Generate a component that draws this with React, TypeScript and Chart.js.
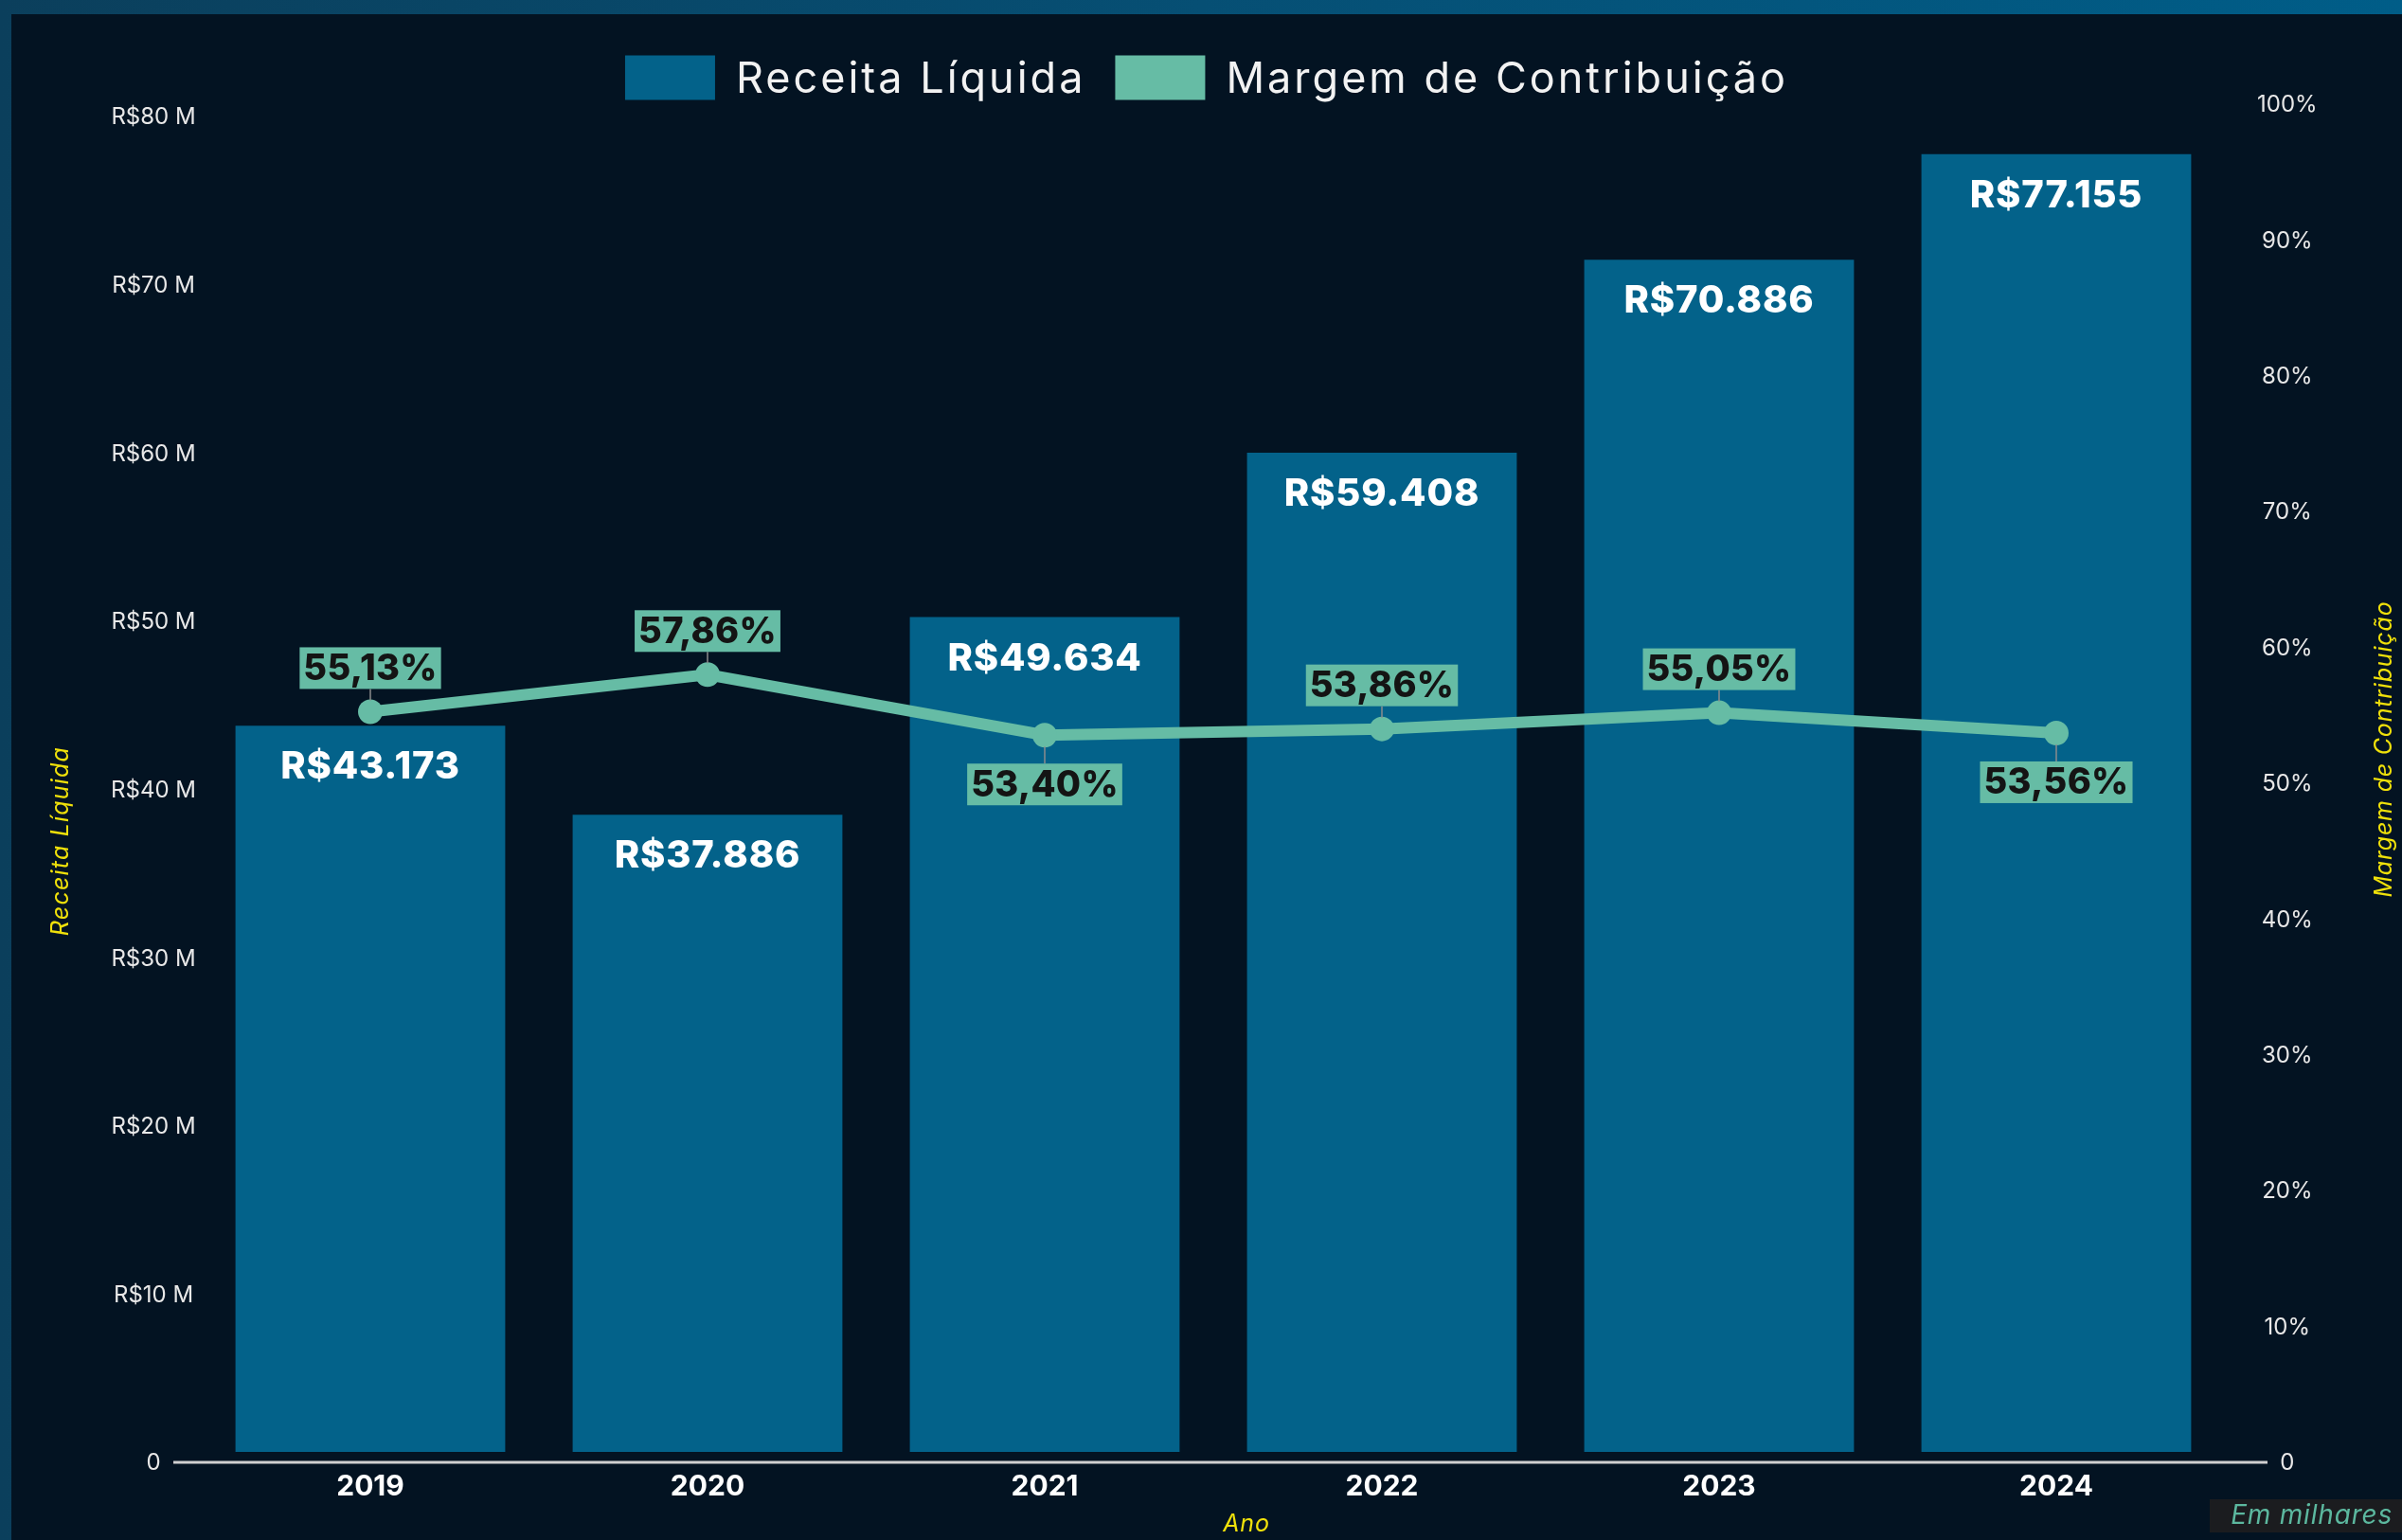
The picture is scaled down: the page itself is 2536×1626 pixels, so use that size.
import React, { useEffect, useRef } from "react";
import { Chart, registerables } from "chart.js";

Chart.register(...registerables);

// ---- data ----
const years = ["2019", "2020", "2021", "2022", "2023", "2024"];
// Receita Líquida em R$ mil
const receitaLiquida = [43173, 37886, 49634, 59408, 70886, 77155];
// Margem de Contribuição em %
const margemContribuicao = [55.13, 57.86, 53.4, 53.86, 55.05, 53.56];
const receitaTicks = [0, 10000, 20000, 30000, 40000, 50000, 60000, 70000, 80000];
const margemTicks = [0, 10, 20, 30, 40, 50, 60, 70, 80, 90, 100];
const margemLabelSide = ["above", "above", "below", "above", "above", "below"];

const legendLabels = ["Receita Líquida", "Margem de Contribuição"];
const axisTitles = { left: "Receita Líquida", right: "Margem de Contribuição", bottom: "Ano" };
const footnote = "Em milhares";

// ---- styles ----
const FONT = '"Inter", "Noto Sans", sans-serif';
const BAR_COLOR = "#03628a";
const LINE_COLOR = "#66bca5";
const BG = "#031322";
const YELLOW = "#f0e10a";
const CANVAS_W = 2524;
const CANVAS_H = 1611;

const fmtReceita = (v: number) =>
  "R$" + Math.floor(v / 1000) + "." + String(v % 1000).padStart(3, "0");
const fmtPct = (v: number) => v.toFixed(2).replace(".", ",") + "%";

const setSpacing = (ctx: any, px: number) => {
  if ("letterSpacing" in ctx) ctx.letterSpacing = `${px}px`;
};

const decorPlugin = {
  id: "decor",
  beforeDraw(chart: any) {
    const { ctx } = chart;
    ctx.save();
    ctx.fillStyle = BG;
    ctx.fillRect(0, 0, chart.width, chart.height);
    ctx.restore();
  },
  afterDraw(chart: any) {
    const { ctx, chartArea } = chart;
    ctx.save();
    // custom legend
    const boxW = 95, boxH = 47, gap = 22, itemGap = 31, cy = 67;
    ctx.font = `400 45px ${FONT}`;
    setSpacing(ctx, 3);
    const colors = [BAR_COLOR, LINE_COLOR];
    const widths = legendLabels.map((t) => ctx.measureText(t).width);
    const total = widths.reduce((a, w) => a + boxW + gap + w, 0) + itemGap * (legendLabels.length - 1);
    let x = chart.width / 2 - total / 2;
    legendLabels.forEach((t, i) => {
      ctx.fillStyle = colors[i];
      ctx.fillRect(x, cy - boxH / 2, boxW, boxH);
      x += boxW + gap;
      ctx.fillStyle = "#f2f2f2";
      ctx.textAlign = "left";
      ctx.textBaseline = "middle";
      ctx.fillText(t, x, cy + 2);
      x += widths[i] + itemGap;
    });
    setSpacing(ctx, 0);

    // axis line
    const yZero = chartArea.bottom + 2;
    ctx.strokeStyle = "#d0d0d0";
    ctx.lineWidth = 3;
    ctx.beginPath();
    ctx.moveTo(chartArea.left - 30, yZero);
    ctx.lineTo(chartArea.right + 45, yZero);
    ctx.stroke();

    // axis titles
    ctx.fillStyle = YELLOW;
    ctx.font = `italic 400 25px ${FONT}`;
    ctx.textAlign = "center";
    ctx.textBaseline = "middle";
    setSpacing(ctx, 1.2);
    ctx.save();
    ctx.translate(52, 873);
    ctx.rotate(-Math.PI / 2);
    ctx.fillText(axisTitles.left, 0, 0);
    ctx.restore();
    setSpacing(ctx, 0.8);
    ctx.save();
    ctx.translate(2505, 776);
    ctx.rotate(-Math.PI / 2);
    ctx.fillText(axisTitles.right, 0, 0);
    ctx.restore();
    setSpacing(ctx, 0.8);
    ctx.fillText(axisTitles.bottom, 1304, 1594);
    setSpacing(ctx, 0);

    // footnote
    ctx.fillStyle = "#1b1c1f";
    ctx.fillRect(2321, 1568, chart.width - 2321, 35);
    ctx.fillStyle = "#5cb89f";
    ctx.font = `italic 400 28px ${FONT}`;
    setSpacing(ctx, 0.8);
    ctx.textAlign = "right";
    ctx.fillText(footnote, 2514, 1586);
    setSpacing(ctx, 0);
    ctx.restore();
  },
  afterDatasetsDraw(chart: any) {
    const { ctx } = chart;
    ctx.save();
    // bar labels
    const bars = chart.getDatasetMeta(1).data;
    ctx.font = `800 40px ${FONT}`;
    setSpacing(ctx, 0.8);
    ctx.fillStyle = "#ffffff";
    ctx.textAlign = "center";
    ctx.textBaseline = "middle";
    bars.forEach((el: any, i: number) => {
      ctx.fillText(fmtReceita(receitaLiquida[i]), el.x, el.y + 44);
    });
    // line labels
    ctx.font = `800 38px ${FONT}`;
    setSpacing(ctx, 0.3);
    const pts = chart.getDatasetMeta(0).data;
    pts.forEach((el: any, i: number) => {
      const txt = fmtPct(margemContribuicao[i]);
      const tw = ctx.measureText(txt).width;
      const bw = tw + 8, bh = 44;
      const above = margemLabelSide[i] === "above";
      const cy = above ? el.y - 46 : el.y + 52;
      const boxEdge = above ? cy + bh / 2 : cy - bh / 2;
      ctx.strokeStyle = "#8c8c8c";
      ctx.lineWidth = 1.5;
      ctx.beginPath();
      ctx.moveTo(el.x, boxEdge);
      ctx.lineTo(el.x, above ? el.y - 12 : el.y + 12);
      ctx.stroke();
      ctx.fillStyle = LINE_COLOR;
      ctx.fillRect(el.x - bw / 2, cy - bh / 2, bw, bh);
      ctx.fillStyle = "#141414";
      ctx.fillText(txt, el.x, cy + 1);
    });
    setSpacing(ctx, 0);
    ctx.restore();
  },
};

export default function App() {
  const ref = useRef<HTMLCanvasElement | null>(null);

  useEffect(() => {
    document.body.style.margin = "0";
    if (!ref.current) return;
    const chart = new Chart(ref.current, {
      type: "bar",
      data: {
        labels: years,
        datasets: [
          {
            type: "line",
            label: legendLabels[1],
            data: margemContribuicao,
            yAxisID: "y1",
            borderColor: LINE_COLOR,
            backgroundColor: LINE_COLOR,
            borderWidth: 12,
            pointRadius: 13,
            pointBackgroundColor: LINE_COLOR,
            pointBorderWidth: 0,
            tension: 0,
            order: 0,
          } as any,
          {
            type: "bar",
            label: legendLabels[0],
            data: receitaLiquida,
            yAxisID: "y",
            backgroundColor: BAR_COLOR,
            barPercentage: 0.8,
            categoryPercentage: 1,
            order: 1,
          } as any,
        ],
      },
      options: {
        animation: false,
        responsive: false,
        devicePixelRatio: 1,
        layout: { padding: { top: 93, left: 0, right: 0, bottom: 0 } },
        plugins: {
          legend: { display: false },
          tooltip: { enabled: false },
        },
        scales: {
          x: {
            offset: true,
            grid: { display: false, drawTicks: false },
            border: { display: false },
            ticks: {
              color: "#ffffff",
              font: { family: FONT, size: 30, weight: "bold" },
              padding: 10,
            },
            afterFit: (s: any) => {
              s.height = 84;
            },
          },
          y: {
            position: "left",
            min: -500,
            max: 80240,
            grid: { display: false, drawTicks: false },
            border: { display: false },
            afterBuildTicks: (s: any) => {
              s.ticks = receitaTicks.map((v) => ({ value: v }));
            },
            ticks: {
              color: "#e8e8e8",
              font: { family: FONT, size: 24 },
              crossAlign: "center",
              padding: 6,
              labelOffset: 12,
              callback: (v: any) => (v === 0 ? "0" : `R$${v / 1000} M`),
            },
            afterFit: (s: any) => {
              s.width = 201;
            },
          },
          y1: {
            position: "right",
            min: 0,
            max: 100,
            grid: { display: false, drawTicks: false },
            border: { display: false },
            afterBuildTicks: (s: any) => {
              s.ticks = margemTicks.map((v) => ({ value: v }));
            },
            ticks: {
              color: "#e8e8e8",
              font: { family: FONT, size: 24 },
              crossAlign: "center",
              padding: 34,
              labelOffset: 3,
              callback: (v: any) => (v === 0 ? "0" : `${v}%`),
            },
            afterFit: (s: any) => {
              s.width = 187;
            },
          },
        },
      },
      plugins: [decorPlugin],
    });
    return () => chart.destroy();
  }, []);

  return (
    <div
      style={{
        width: 2536,
        height: 1626,
        background: "linear-gradient(90deg, #0b3f5c 0%, #064f74 50%, #005d88 100%)",
        position: "relative",
        overflow: "hidden",
      }}
    >
      <canvas
        ref={ref}
        width={CANVAS_W}
        height={CANVAS_H}
        style={{ position: "absolute", left: 12, top: 15, display: "block" }}
      />
    </div>
  );
}
